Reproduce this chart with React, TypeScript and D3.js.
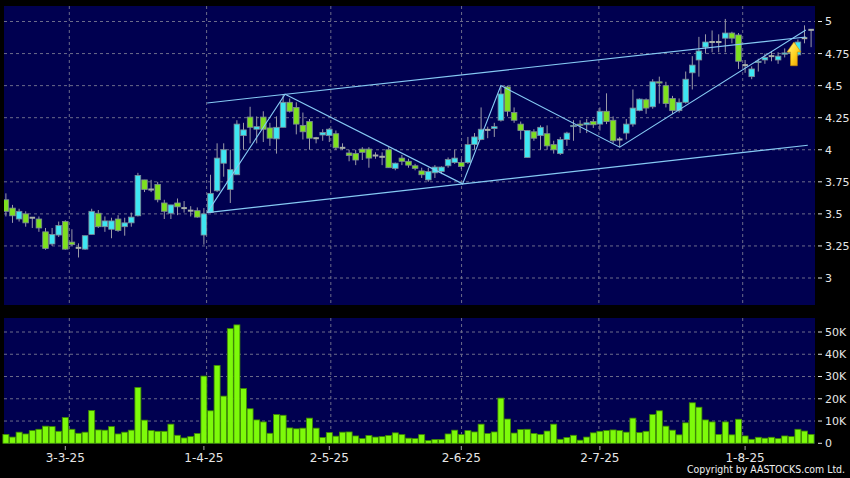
import React from 'react';
import * as d3 from 'd3';

// ---- Data ----
const openP = [
  3.61, 3.545, 3.46, 3.5, 3.47, 3.46, 3.36, 3.265, 3.335, 3.44,
  3.28, 3.235, 3.225, 3.34, 3.505, 3.4, 3.38, 3.46, 3.4, 3.43,
  3.485, 3.765, 3.69, 3.73, 3.585, 3.505, 3.585, 3.545, 3.525, 3.525,
  3.335, 3.51, 3.68, 3.895, 3.69, 3.805, 4.11, 4.255, 4.16, 4.255,
  4.17, 4.085, 4.175, 4.37, 4.33, 4.19, 4.22, 4.09, 4.115, 4.11,
  4.125, 4.015, 3.975, 3.97, 4.005, 4.005, 3.955, 3.945, 4.0, 3.855,
  3.935, 3.91, 3.875, 3.835, 3.765, 3.82, 3.83, 3.875, 3.9, 3.9,
  3.9, 4.04, 4.08, 4.155, 4.165, 4.23, 4.49, 4.29, 4.2, 3.94,
  4.14, 4.11, 4.125, 4.04, 3.97, 4.08, 4.18, 4.2, 4.195, 4.22,
  4.2, 4.3, 4.23, 4.08, 4.13, 4.2, 4.305, 4.39, 4.335, 4.53,
  4.5, 4.4, 4.305, 4.37, 4.6, 4.7, 4.8, 4.84, 4.84, 4.87,
  4.91, 4.895, 4.66, 4.57, 4.68, 4.7, 4.73, 4.7, 4.745, 4.75,
  4.74, 4.87, 4.935,
];
const highP = [
  3.66, 3.57, 3.54, 3.52, 3.475, 3.48, 3.39, 3.39, 3.44, 3.45,
  3.38, 3.27, 3.33, 3.54, 3.53, 3.48, 3.47, 3.49, 3.47, 3.51,
  3.82, 3.765, 3.765, 3.75, 3.61, 3.57, 3.62, 3.6, 3.56, 3.55,
  3.545, 3.805, 4.05, 4.05, 4.0, 4.23, 4.21, 4.335, 4.26, 4.3,
  4.21, 4.26, 4.43, 4.4, 4.37, 4.29, 4.24, 4.1, 4.16, 4.17,
  4.15, 4.05, 4.0, 4.0, 4.02, 4.02, 3.98, 3.98, 4.02, 3.9,
  3.96, 3.93, 3.89, 3.86, 3.86, 3.88, 3.87, 3.94, 4.0, 3.93,
  4.1, 4.13, 4.33, 4.18, 4.21, 4.5, 4.5, 4.33, 4.22, 4.15,
  4.16, 4.19, 4.19, 4.07, 4.1, 4.14, 4.23, 4.23, 4.24, 4.24,
  4.33, 4.44, 4.26, 4.1, 4.24, 4.47, 4.4, 4.4, 4.55, 4.57,
  4.53, 4.42, 4.4, 4.61, 4.73, 4.88, 4.9, 4.93, 4.9, 5.02,
  4.92, 4.91, 4.7, 4.65, 4.71, 4.75, 4.77, 4.76, 4.79, 4.8,
  4.86, 4.97, 4.94,
];
const lowP = [
  3.48, 3.43, 3.44, 3.4, 3.39, 3.36, 3.22, 3.25, 3.32, 3.22,
  3.25, 3.16, 3.22, 3.34, 3.39, 3.36, 3.31, 3.36, 3.33, 3.4,
  3.48, 3.67, 3.67, 3.59, 3.46, 3.46, 3.49, 3.51, 3.48, 3.47,
  3.26, 3.51, 3.67, 3.79, 3.585, 3.805, 4.0, 4.05, 4.05, 4.06,
  4.03, 3.97, 4.175, 4.29, 4.12, 4.08, 4.0, 4.05, 4.07, 4.06,
  4.0, 4.0, 3.91, 3.88, 3.92, 3.86, 3.93, 3.88, 3.86, 3.84,
  3.88, 3.86, 3.84, 3.78, 3.75, 3.78, 3.81, 3.86, 3.89, 3.85,
  3.89, 4.0, 4.075, 4.09, 4.1, 4.22, 4.26, 4.21, 4.08, 3.94,
  4.07, 4.0, 4.0, 3.97, 3.96, 4.03, 4.07, 4.13, 4.13, 4.17,
  4.15, 4.2, 4.05, 4.02, 4.08, 4.18, 4.3, 4.28, 4.32, 4.36,
  4.33, 4.28, 4.29, 4.36, 4.47, 4.57, 4.75, 4.76, 4.76, 4.76,
  4.83, 4.63, 4.6, 4.55, 4.61, 4.67, 4.69, 4.67, 4.72, 4.7,
  4.73, 4.83, 4.8,
];
const closeP = [
  3.52, 3.485, 3.52, 3.43, 3.47, 3.39, 3.23, 3.34, 3.41, 3.225,
  3.26, 3.23, 3.33, 3.52, 3.4, 3.445, 3.445, 3.37, 3.43, 3.475,
  3.8, 3.69, 3.69, 3.61, 3.52, 3.57, 3.555, 3.545, 3.525, 3.475,
  3.5, 3.66, 3.935, 4.0, 3.845, 4.2, 4.155, 4.175, 4.18, 4.16,
  4.09, 4.175, 4.37, 4.3, 4.2, 4.14, 4.09, 4.09, 4.135, 4.16,
  4.015, 4.015, 3.955, 3.92, 3.98, 3.935, 3.955, 3.945, 3.86, 3.895,
  3.91, 3.88, 3.855, 3.805, 3.83, 3.865, 3.865, 3.925, 3.935, 3.87,
  4.04, 4.1, 4.16, 4.155, 4.18, 4.435, 4.3, 4.23, 4.15, 4.15,
  4.09, 4.175, 4.03, 4.0, 4.08, 4.13, 4.19, 4.19, 4.21, 4.195,
  4.3, 4.22, 4.07, 4.08, 4.2, 4.325, 4.395, 4.325, 4.53, 4.52,
  4.36, 4.305, 4.37, 4.55, 4.66, 4.77, 4.84, 4.84, 4.84, 4.91,
  4.87, 4.69, 4.66, 4.63, 4.69, 4.72, 4.73, 4.73, 4.755, 4.76,
  4.84, 4.87, 4.935,
];
const volumeK = [
  4.0, 2.8, 5.0, 4.2, 5.7, 6.3, 7.7, 7.5, 5.4, 11.6,
  6.3, 4.5, 5.0, 14.7, 6.0, 5.9, 7.5, 4.2, 5.0, 5.9,
  25.1, 10.4, 5.7, 5.4, 5.4, 8.6, 3.6, 2.4, 3.0, 4.4,
  30.2, 14.6, 35.0, 21.2, 51.5, 53.2, 24.6, 15.5, 10.5, 9.6,
  4.5, 12.9, 12.6, 6.9, 6.5, 6.8, 11.3, 6.8, 2.6, 4.8,
  3.2, 5.0, 5.1, 3.3, 2.1, 3.5, 2.8, 3.0, 3.5, 4.7,
  3.9, 2.3, 2.1, 3.9, 1.2, 1.7, 1.7, 4.2, 5.9, 3.9,
  5.7, 5.1, 8.6, 4.4, 5.1, 20.3, 10.9, 4.6, 6.2, 6.3,
  4.4, 4.0, 5.5, 8.6, 1.8, 2.6, 3.6, 1.4, 2.8, 4.7,
  5.4, 5.7, 6.0, 5.7, 5.0, 11.3, 4.8, 5.4, 12.9, 14.6,
  7.7, 5.9, 3.8, 9.2, 18.2, 16.2, 10.5, 9.6, 4.0, 9.6,
  3.8, 10.8, 3.3, 1.8, 2.7, 2.3, 2.7, 2.1, 3.3, 3.0,
  6.3, 5.5, 4.0,
];

const dateTickIndex = [9, 30, 49, 69, 90, 112];
const dateTickLabels = ['3-3-25', '1-4-25', '2-5-25', '2-6-25', '2-7-25', '1-8-25'];
const priceTicks = [3, 3.25, 3.5, 3.75, 4, 4.25, 4.5, 4.75, 5];
const priceTickLabels = ['3', '3.25', '3.5', '3.75', '4', '4.25', '4.5', '4.75', '5'];
const volumeTicks = [0, 10000, 20000, 30000, 40000, 50000];
const volumeTickLabels = ['0', '10K', '20K', '30K', '40K', '50K'];

// drawn trend lines: [bar index, price]
const channelUpper: [number, number][] = [[30.5, 4.365], [121.2, 4.879]];
const channelLower: [number, number][] = [[30.5, 3.51], [121.5, 4.035]];
const zigzag: [number, number][] = [[30.5, 3.51], [42.3, 4.433], [69.2, 3.734], [75.0, 4.5], [93.0, 4.02], [121.2, 4.934]];
const signalIndex = 119.4;
const signalBase = 4.655;
const signalTip = 4.84;

const FONT = 'DejaVu Sans, Verdana, sans-serif';

export default function App() {
  const W = 850, H = 478;
  const L = 4, R = 815;
  const pTop = 6, pBot = 305;
  const vTop = 318, vBot = 444;

  const x = d3.scaleLinear().domain([0, 122]).range([5.9, 811.1]);
  const xGrid = d3.scaleLinear().domain([9, 112]).range([69.3, 742.7]);
  const y = d3.scaleLinear().domain([3, 5]).range([278, 21.5]);
  const yv = d3.scaleLinear().domain([0, 50000]).range([443.3, 332]);

  const bw = 5.6;
  const line = d3.line<[number, number]>().x(d => x(d[0])).y(d => y(d[1]));

  const gridColor = '#6c6c8a';
  const textColor = '#e6e6e6';
  const trendColor = '#86caf4';

  const ax = x(signalIndex);
  const yt = y(signalTip);
  const yb = y(signalBase);
  const arrowPath = `M${ax},${yt} L${ax + 7},${yt + 10} L${ax + 3.4},${yt + 10} L${ax + 3.4},${yb} L${ax - 3.4},${yb} L${ax - 3.4},${yt + 10} L${ax - 7},${yt + 10} Z`;

  return (
    <svg width={W} height={H} style={{ position: 'absolute', left: 0, top: 0, display: 'block' }}>
      <defs>
        <linearGradient id="arrowGrad" x1="0" y1="0" x2="1" y2="1">
          <stop offset="0%" stopColor="#fff68a" />
          <stop offset="55%" stopColor="#ffd21e" />
          <stop offset="100%" stopColor="#e59400" />
        </linearGradient>
        <clipPath id="pclip"><rect x={L} y={pTop} width={R - L} height={pBot - pTop} /></clipPath>
      </defs>
      <rect x={0} y={0} width={W} height={H} fill="#000" />
      <rect x={L} y={pTop} width={R - L} height={pBot - pTop} fill="#000050" />
      <rect x={L} y={vTop} width={R - L} height={vBot - vTop} fill="#000050" />

      {/* grid */}
      {priceTicks.map((t, i) => (
        <line key={'pg' + i} x1={L} x2={R} y1={y(t)} y2={y(t)} stroke={gridColor} strokeDasharray="3,3" strokeWidth={1} />
      ))}
      {volumeTicks.slice(1).map((t, i) => (
        <line key={'vg' + i} x1={L} x2={R} y1={yv(t)} y2={yv(t)} stroke={gridColor} strokeDasharray="3,3" strokeWidth={1} />
      ))}
      {dateTickIndex.map((d, i) => (
        <g key={'xg' + i}>
          <line x1={xGrid(d)} x2={xGrid(d)} y1={pTop} y2={pBot} stroke={gridColor} strokeDasharray="3,3" />
          <line x1={xGrid(d)} x2={xGrid(d)} y1={vTop} y2={vBot} stroke={gridColor} strokeDasharray="3,3" />
        </g>
      ))}

      {/* candles */}
      <g clipPath="url(#pclip)">
        {openP.map((o, i) => {
          const c = closeP[i];
          const cx = x(i);
          const up = c > o;
          const doji = Math.abs(c - o) < 0.006;
          const top = y(Math.max(o, c));
          const bot = y(Math.min(o, c));
          return (
            <g key={'c' + i}>
              <line x1={cx} x2={cx} y1={y(highP[i])} y2={y(lowP[i])} stroke="#9a9aa6" strokeWidth={1} />
              {doji ? (
                <rect x={cx - bw / 2} y={top - 1} width={bw} height={2} fill="#a8b0a8" />
              ) : (
                <rect x={cx - bw / 2} y={top} width={bw} height={Math.max(1, bot - top)}
                  fill={up ? '#3ee6f2' : '#7ee01e'} stroke="#7d8a96" strokeWidth={0.8} />
              )}
            </g>
          );
        })}
        <path d={line(channelUpper) || ''} fill="none" stroke={trendColor} strokeWidth={1.1} />
        <path d={line(channelLower) || ''} fill="none" stroke={trendColor} strokeWidth={1.1} />
        <path d={line(zigzag) || ''} fill="none" stroke={trendColor} strokeWidth={1.1} />
        <path d={arrowPath} fill="url(#arrowGrad)" stroke="#c88a00" strokeWidth={0.6} />
      </g>

      {/* volume */}
      {volumeK.map((v, i) => (
        <rect key={'v' + i} x={x(i) - bw / 2 - 0.2} y={yv(v * 1000)} width={bw + 0.4}
          height={yv(0) - yv(v * 1000)} fill="#7dfa0a" stroke="#3f8a00" strokeWidth={0.8} />
      ))}

      {/* right axis: price */}
      {priceTicks.map((t, i) => (
        <g key={'pt' + i}>
          <line x1={818} x2={822} y1={y(t)} y2={y(t)} stroke={textColor} />
          <text x={825} y={y(t)} dy="0.36em" fill={textColor} fontSize={11} fontFamily={FONT}>{priceTickLabels[i]}</text>
        </g>
      ))}
      {/* right axis: volume */}
      {volumeTicks.map((t, i) => (
        <g key={'vt' + i}>
          <line x1={818} x2={822} y1={yv(t)} y2={yv(t)} stroke={textColor} />
          <text x={825} y={yv(t)} dy="0.36em" fill={textColor} fontSize={11} fontFamily={FONT}>{volumeTickLabels[i]}</text>
        </g>
      ))}
      {/* x axis */}
      {dateTickIndex.map((d, i) => (
        <g key={'xt' + i}>
          <line x1={x(d)} x2={x(d)} y1={446} y2={450} stroke="#aaa" />
          <text x={x(d)} y={462} textAnchor="middle" fill={textColor} fontSize={12} fontFamily={FONT}>{dateTickLabels[i]}</text>
        </g>
      ))}
      <text x={845} y={473} textAnchor="end" fill="#f0f0f0" fontSize={11} fontFamily={FONT}
        textLength={158} lengthAdjust="spacingAndGlyphs">Copyright by AASTOCKS.com Ltd.</text>
    </svg>
  );
}
